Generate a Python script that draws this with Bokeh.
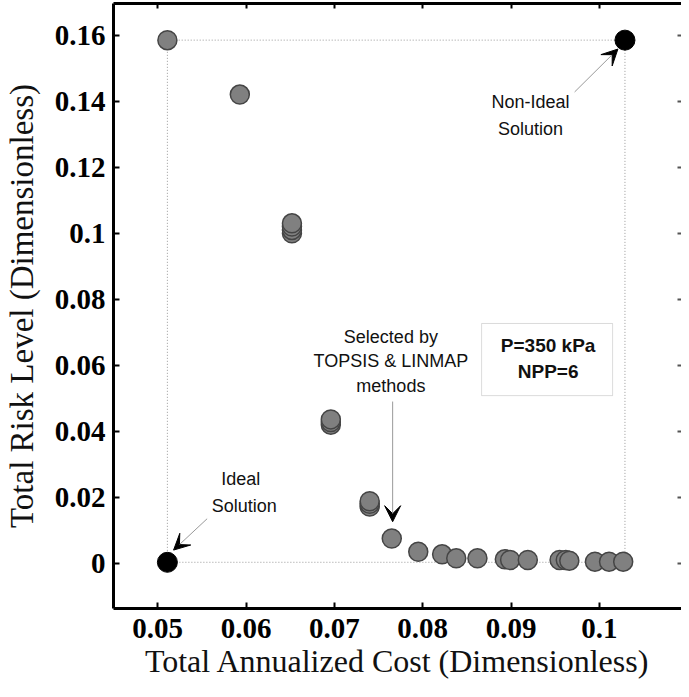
from bokeh.plotting import figure
from bokeh.models import (FixedTicker, LinearAxis, Range1d, Label, Arrow, VeeHead,
                          BoxAnnotation, CustomJSTickFormatter, ColumnDataSource)
from bokeh.embed import file_html
from bokeh.resources import INLINE

# ---- data ----
cost = [0.0511, 0.0593, 0.0652, 0.0652, 0.0652, 0.0652, 0.0696, 0.0696, 0.0696,
        0.0740, 0.0740, 0.0740, 0.0765, 0.0795, 0.0822, 0.0838, 0.0862, 0.0893,
        0.0899, 0.0919, 0.0955, 0.0962, 0.0966, 0.0995, 0.1011, 0.1027]
risk = [0.1585, 0.1420, 0.1000, 0.1010, 0.1020, 0.1030, 0.0420, 0.0428, 0.0436,
        0.0172, 0.0180, 0.0188, 0.0075, 0.0035, 0.0027, 0.0015, 0.0015, 0.0012,
        0.0010, 0.0010, 0.0010, 0.0010, 0.0008, 0.0005, 0.0005, 0.0005]
ideal_cost = [0.0511]
ideal_risk = [0.0003]
nonideal_cost = [0.1029]
nonideal_risk = [0.1585]
selected_cost = [0.0766]
selected_risk = [0.0075]
x_ticks = [0.05, 0.06, 0.07, 0.08, 0.09, 0.1]
y_ticks = [0, 0.02, 0.04, 0.06, 0.08, 0.1, 0.12, 0.14, 0.16]

SERIF = "Liberation Serif"
SANS = "Liberation Sans"

p = figure(width=681, height=681, output_backend="svg", toolbar_location=None,
           x_range=Range1d(0.045, 0.1093), y_range=Range1d(-0.0137, 0.1696),
           min_border_left=110, min_border_right=0, min_border_top=3,
           min_border_bottom=68, background_fill_color="white",
           border_fill_color="white", outline_line_color=None)
p.grid.visible = False

fmt = CustomJSTickFormatter(code="return parseFloat(tick.toFixed(4)).toString();")

for ax in (p.xaxis[0], p.yaxis[0]):
    ax.axis_line_width = 3
    ax.axis_line_color = "black"
    ax.major_tick_in = 6
    ax.major_tick_out = 0
    ax.major_tick_line_width = 2
    ax.minor_tick_line_color = None
    ax.formatter = fmt
    ax.major_label_text_font = SERIF
    ax.major_label_text_font_style = "bold"
    ax.major_label_text_font_size = "29px"
    ax.major_label_text_color = "black"
    ax.axis_label_text_font = SERIF
    ax.axis_label_text_font_style = "normal"
    ax.axis_label_text_font_size = "32px"
    ax.axis_label_text_color = "#111"

p.yaxis[0].axis_label_text_font_size = "33px"
p.xaxis[0].ticker = FixedTicker(ticks=x_ticks)
p.yaxis[0].ticker = FixedTicker(ticks=y_ticks)
p.xaxis[0].axis_label = "Total Annualized Cost (Dimensionless)"
p.yaxis[0].axis_label = "Total Risk Level (Dimensionless)"
p.xaxis[0].major_label_standoff = 10
p.xaxis[0].axis_label_standoff = 2
p.yaxis[0].major_label_standoff = 8
p.yaxis[0].axis_label_standoff = 12

top = LinearAxis(ticker=FixedTicker(ticks=x_ticks), axis_line_width=3,
                 major_tick_in=5, major_tick_out=0, major_tick_line_width=2,
                 minor_tick_line_color=None, major_label_text_font_size="1px",
                 major_label_text_color=None, major_label_standoff=0)
p.add_layout(top, "above")
right = LinearAxis(ticker=FixedTicker(ticks=y_ticks), axis_line_color=None,
                   major_tick_in=4, major_tick_out=0, major_tick_line_width=2,
                   major_tick_line_color="#555", minor_tick_line_color=None,
                   major_label_text_font_size="1px", major_label_text_color=None,
                   major_label_standoff=0)
p.add_layout(right, "right")

# dotted box between ideal and non-ideal points
rx = [ideal_cost[0], nonideal_cost[0], nonideal_cost[0], ideal_cost[0], ideal_cost[0]]
ry = [ideal_risk[0], ideal_risk[0], nonideal_risk[0], nonideal_risk[0], ideal_risk[0]]
p.line(rx, ry, line_color="#999999", line_width=1, line_dash="1 2")

src = ColumnDataSource(dict(x=cost, y=risk))
p.scatter("x", "y", source=src, size=19, fill_color="#808080",
          line_color="#454545", line_width=1.5)
p.scatter(ideal_cost + nonideal_cost, ideal_risk + nonideal_risk, size=20,
          fill_color="black", line_color="black")

def lab(x, y, t, size="18px", style="normal"):
    p.add_layout(Label(x=x, y=y, text=t, text_font=SANS, text_font_size=size,
                       text_font_style=style, text_align="center",
                       text_baseline="middle", text_color="#111"))

lab(0.0922, 0.1398, "Non-Ideal")
lab(0.0922, 0.1317, "Solution")
lab(0.0594, 0.0256, "Ideal")
lab(0.0598, 0.0175, "Solution")
lab(0.0764, 0.0686, "Selected by")
lab(0.0764, 0.0614, "TOPSIS & LINMAP")
lab(0.0764, 0.0536, "methods")

p.add_layout(BoxAnnotation(left=0.08667, right=0.1015, bottom=0.0508, top=0.07265,
                           fill_color=None, line_color="#888888", line_width=1))
lab(0.0942, 0.0661, "P=350 kPa", size="19px", style="bold")
lab(0.0942, 0.0582, "NPP=6", size="19px", style="bold")

def arr(x0, y0, x1, y1):
    p.add_layout(Arrow(end=VeeHead(size=16, fill_color="black", line_color="black"),
                       x_start=x0, y_start=y0, x_end=x1, y_end=y1,
                       line_color="#999999", line_width=1))

arr(0.0972, 0.1428, nonideal_cost[0] - 0.0008, nonideal_risk[0] - 0.0027)
arr(0.0556, 0.0135, ideal_cost[0] + 0.0007, ideal_risk[0] + 0.0037)
arr(0.0766, 0.0490, selected_cost[0], selected_risk[0] + 0.0051)

open("out.html", "w").write(file_html(p, INLINE))
